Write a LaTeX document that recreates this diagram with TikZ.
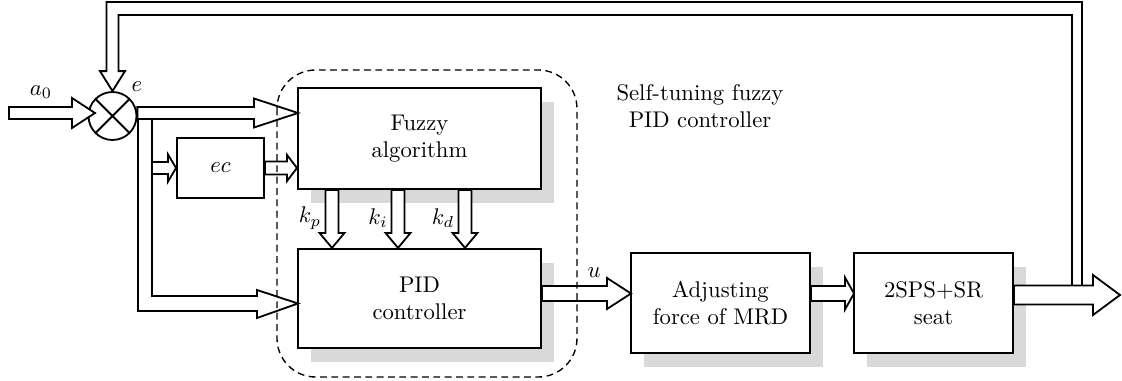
\documentclass[tikz,border=0pt]{standalone}
\usetikzlibrary{calc,shadows}
\tikzset{
	block/.style={draw, line width=.8pt, fill=white, align=center, inner sep=0pt,
		drop shadow={shadow xshift=.2cm, shadow yshift=-.22cm, fill=black!15, opacity=1}},
	plainblock/.style={draw, line width=.8pt, fill=white, align=center, inner sep=0pt},
	fat/.style={draw, line width=.8pt, fill=white, line join=miter},
	groupbox/.style={draw, line width=.6pt, dash pattern=on 3pt off 2pt, rounded corners=.6cm},
}
% hollow arrows: from, to, head length, shaft half width, head half width
\newcommand\fatright[5]{%
	\draw[fat] ($(#1|-#2)+(0,-#4)$) -- ($(#2)+(-#3,-#4)$) -- ($(#2)+(-#3,-#5)$) -- (#2)
		-- ($(#2)+(-#3,#5)$) -- ($(#2)+(-#3,#4)$) -- ($(#1|-#2)+(0,#4)$) -- cycle;}
\newcommand\fatdown[5]{%
	\draw[fat] ($(#2|-#1)+(-#4,0)$) -- ($(#2)+(-#4,-#3)$) -- ($(#2)+(-#5,-#3)$) -- (#2)
		-- ($(#2)+(#5,-#3)$) -- ($(#2)+(#4,-#3)$) -- ($(#2|-#1)+(#4,0)$) -- cycle;}
\begin{document}
\begin{tikzpicture}[x=.0155cm, y=-.0155cm]
	\useasboundingbox (0,0) rectangle (1122,381);

	\node[block, minimum width=3.77cm, minimum height=1.57cm]      (fuzzy) at (419.5,138.5) {Fuzzy\\algorithm};
	\node[block, minimum width=3.77cm, minimum height=1.54cm]      (pid)   at (419.5,298.5) {PID\\controller};
	\node[block, minimum width=2.78cm, minimum height=1.55cm]      (adj)   at (720.5,303)   {Adjusting\\force of MRD};
	\node[block, minimum width=2.47cm, minimum height=1.55cm]      (seat)  at (933.5,303)   {2SPS+SR\\seat};
	\node[plainblock, minimum width=1.35cm, minimum height=.93cm]  (ec)    at (220.5,168)   {$ec$};
	\node[draw, line width=.8pt, fill=white, circle, minimum size=.744cm, inner sep=0pt] (sum) at (112.5,116) {};
	\draw[line width=.8pt] (sum.north west) -- (sum.south east) (sum.north east) -- (sum.south west);

	\coordinate (a0)   at (9,113);
	\coordinate (a0in) at (95,113);
	\coordinate (fe)   at (298,113);
	\coordinate (fec)  at (fuzzy.west|-ec.east);
	\coordinate (eb)   at (152,168);
	\coordinate (pin)  at (298,303.5);
	\coordinate (kp)   at ($(pid.north west)+(35,0)$);
	\coordinate (ki)   at ($(pid.north west)+(101,0)$);
	\coordinate (kd)   at ($(pid.north west)+(168,0)$);
	\coordinate (uin)  at (631,293.5);
	\coordinate (sin)  at (854,293.5);
	\coordinate (out)  at (1120,295);
	\coordinate (fb)   at (1077,285.5);

	\fatright{a0}{a0in}{23}{6}{15}
	\draw[fat] (138,119) -- (138,311) -- (257,311) -- (257,318) -- (pin) -- (257,290) -- (257,296) -- (152,296) -- (152,119);
	\fatright{sum.east}{fe}{44}{6}{14.5}
	\fatright{eb}{ec.west}{8}{6}{13.5}
	\fatright{ec.east}{fec}{10}{6.5}{13}
	\fatdown{fuzzy.south}{kp}{15}{6.5}{12.5}
	\fatdown{fuzzy.south}{ki}{15}{6.5}{12.5}
	\fatdown{fuzzy.south}{kd}{15}{6.5}{12.5}
	\fatright{pid.east}{uin}{24}{7.5}{15.5}
	\fatright{adj.east}{sin}{9}{7.5}{16}
	\fatright{seat.east}{out}{27}{9.5}{20}
	\draw[line width=.8pt, line join=miter] ($(fb)+(5,0)$) |- ($(sum.north)+(-6,-89)$) -- ($(sum.north)+(-6,-20)$) -- ++(-6.5,0) -- (sum.north)
		-- ($(sum.north)+(12.5,-20)$) -- ++(-6.5,0) |- ($(fb)+(-5,-270.5)$) -- ($(fb)+(-5,0)$);

	\node (a0lab) at (41,92)  {$a_0$};
	\node (elab)  at (137,87) {$e$};
	\node (kplab) at (310,218) {$k_p$};
	\node (kilab) at (378,218) {$k_i$};
	\node (kdlab) at (443,218) {$k_d$};
	\node (ulab)  at (594,273) {$u$};
	\node[align=center] (stlab) at (700,106) {Self-tuning fuzzy\\PID controller};

	\draw[groupbox] (277,70) rectangle (577,377);
\end{tikzpicture}
\end{document}
